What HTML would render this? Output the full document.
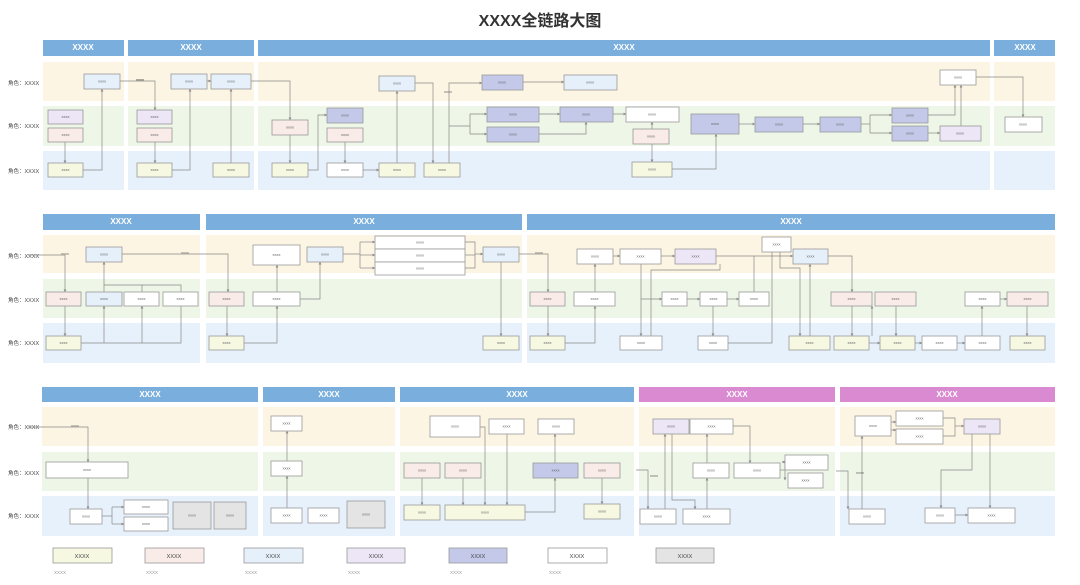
<!DOCTYPE html>
<html><head><meta charset="utf-8"><style>
body{margin:0;background:#fff;}
svg{display:block;font-family:"Liberation Sans","Noto Sans CJK SC",sans-serif;}
.h{fill:#7aaedc}.p{fill:#d98ad0}
.ly{fill:#fdf5e3}.lg{fill:#eef6e8}.lb{fill:#e7f1fb}
.b rect{stroke:#999;stroke-width:0.8}
.t{font-size:4px;fill:#666;text-anchor:middle;dominant-baseline:middle}
.ht{font-size:8px;fill:#fff;font-weight:bold;text-anchor:middle;dominant-baseline:middle}
.rl{font-size:5.5px;fill:#444}
path.c{fill:none;stroke:#888;stroke-width:0.7;marker-end:url(#a)}
path.n{fill:none;stroke:#888;stroke-width:0.7}
</style></head><body>
<svg width="1080" height="585" viewBox="0 0 1080 585" xmlns="http://www.w3.org/2000/svg">
<defs><marker id="a" markerWidth="4" markerHeight="4" refX="3.5" refY="2" orient="auto"><path d="M0,0 L4,2 L0,4z" fill="#888"/></marker></defs>
<text x="540" y="26" font-size="16" font-weight="bold" fill="#333" text-anchor="middle">XXXX全链路大图</text>

<!-- section 1 -->
<g>
<rect class="h" x="43" y="40" width="81" height="16"/><text class="ht" x="83" y="48">XXXX</text>
<rect class="h" x="128" y="40" width="126" height="16"/><text class="ht" x="191" y="48">XXXX</text>
<rect class="h" x="258" y="40" width="732" height="16"/><text class="ht" x="624" y="48">XXXX</text>
<rect class="h" x="994" y="40" width="61" height="16"/><text class="ht" x="1025" y="48">XXXX</text>
<rect class="ly" x="43" y="62" width="81" height="39"/><rect class="ly" x="128" y="62" width="126" height="39"/><rect class="ly" x="258" y="62" width="732" height="39"/><rect class="ly" x="994" y="62" width="61" height="39"/>
<rect class="lg" x="43" y="106" width="81" height="40"/><rect class="lg" x="128" y="106" width="126" height="40"/><rect class="lg" x="258" y="106" width="732" height="40"/><rect class="lg" x="994" y="106" width="61" height="40"/>
<rect class="lb" x="43" y="151" width="81" height="39"/><rect class="lb" x="128" y="151" width="126" height="39"/><rect class="lb" x="258" y="151" width="732" height="39"/><rect class="lb" x="994" y="151" width="61" height="39"/>
<text class="rl" x="8" y="85">角色：XXXX</text><text class="rl" x="8" y="128">角色：XXXX</text><text class="rl" x="8" y="173">角色：XXXX</text>
</g>
<!-- section 2 -->
<g>
<rect class="h" x="43" y="214" width="157" height="16"/><text class="ht" x="121" y="222">XXXX</text>
<rect class="h" x="206" y="214" width="316" height="16"/><text class="ht" x="364" y="222">XXXX</text>
<rect class="h" x="527" y="214" width="528" height="16"/><text class="ht" x="791" y="222">XXXX</text>
<rect class="ly" x="43" y="235" width="157" height="38"/><rect class="ly" x="206" y="235" width="316" height="38"/><rect class="ly" x="527" y="235" width="528" height="38"/>
<rect class="lg" x="43" y="279" width="157" height="39"/><rect class="lg" x="206" y="279" width="316" height="39"/><rect class="lg" x="527" y="279" width="528" height="39"/>
<rect class="lb" x="43" y="323" width="157" height="40"/><rect class="lb" x="206" y="323" width="316" height="40"/><rect class="lb" x="527" y="323" width="528" height="40"/>
<text class="rl" x="8" y="258">角色：XXXX</text><text class="rl" x="8" y="302">角色：XXXX</text><text class="rl" x="8" y="345">角色：XXXX</text>
</g>
<!-- section 3 -->
<g>
<rect class="h" x="42" y="387" width="216" height="15"/><text class="ht" x="150" y="395">XXXX</text>
<rect class="h" x="263" y="387" width="132" height="15"/><text class="ht" x="329" y="395">XXXX</text>
<rect class="h" x="400" y="387" width="234" height="15"/><text class="ht" x="517" y="395">XXXX</text>
<rect class="p" x="639" y="387" width="196" height="15"/><text class="ht" x="737" y="395">XXXX</text>
<rect class="p" x="840" y="387" width="215" height="15"/><text class="ht" x="947" y="395">XXXX</text>
<rect class="ly" x="42" y="407" width="216" height="39"/><rect class="ly" x="263" y="407" width="132" height="39"/><rect class="ly" x="400" y="407" width="234" height="39"/><rect class="ly" x="639" y="407" width="196" height="39"/><rect class="ly" x="840" y="407" width="215" height="39"/>
<rect class="lg" x="42" y="452" width="216" height="39"/><rect class="lg" x="263" y="452" width="132" height="39"/><rect class="lg" x="400" y="452" width="234" height="39"/><rect class="lg" x="639" y="452" width="196" height="39"/><rect class="lg" x="840" y="452" width="215" height="39"/>
<rect class="lb" x="42" y="496" width="216" height="40"/><rect class="lb" x="263" y="496" width="132" height="40"/><rect class="lb" x="400" y="496" width="234" height="40"/><rect class="lb" x="639" y="496" width="196" height="40"/><rect class="lb" x="840" y="496" width="215" height="40"/>
<text class="rl" x="8" y="429">角色：XXXX</text><text class="rl" x="8" y="475">角色：XXXX</text><text class="rl" x="8" y="518">角色：XXXX</text>
</g>

<!-- connectors -->
<g>
<path class="c" d="M65,142V163"/><path class="c" d="M83,170H102V89"/><path class="c" d="M120,81H155V110"/>
<path class="c" d="M155,142V163"/><path class="c" d="M172,170H190V89"/><path class="c" d="M207,81H211"/><path class="c" d="M231,163V89"/>
<path class="c" d="M251,81H290V120"/><path class="c" d="M290,135V163"/><path class="c" d="M308,170H318V115H327"/><path class="c" d="M345,142V163"/>
<path class="c" d="M363,170H379"/><path class="c" d="M397,163V91"/><path class="c" d="M415,83H433V163"/><path class="c" d="M449,163V83H482"/>
<path class="n" d="M449,126H470"/><path class="c" d="M470,114H487"/><path class="c" d="M470,134H487"/><path class="n" d="M470,114V134"/>
<path class="c" d="M523,82H564"/><path class="c" d="M539,114H560"/><path class="c" d="M539,134H586V122"/><path class="c" d="M613,114H626"/>
<path class="c" d="M652,129V122"/><path class="c" d="M652,144V162"/><path class="c" d="M672,169H716V134"/><path class="c" d="M739,124H755"/><path class="c" d="M803,124H820"/>
<path class="n" d="M861,124H870"/><path class="c" d="M870,115H892"/><path class="c" d="M870,133H892"/><path class="n" d="M870,115V133"/>
<path class="c" d="M928,115H955V85"/><path class="c" d="M928,133H940"/><path class="c" d="M961,126V85"/><path class="c" d="M976,77H1023V117"/>

<path class="c" d="M28,255H65V292"/><path class="c" d="M65,306V336"/><path class="n" d="M81,343H181V306"/><path class="c" d="M104,343V306"/><path class="c" d="M142,343V306"/>
<path class="n" d="M104,285H181V292"/><path class="n" d="M142,285V292"/><path class="c" d="M104,292V262"/><path class="c" d="M122,254H228V292"/>
<path class="c" d="M227,306V336"/><path class="c" d="M244,343H277V306"/><path class="c" d="M277,292V265"/><path class="c" d="M300,299H320V262"/>
<path class="n" d="M343,254H360"/><path class="n" d="M360,242V268"/><path class="c" d="M360,242H375"/><path class="c" d="M360,255H375"/><path class="c" d="M360,268H375"/>
<path class="n" d="M465,242H475V268H465"/><path class="n" d="M465,255H475"/><path class="c" d="M475,254H483"/><path class="c" d="M501,262V336"/><path class="c" d="M519,254H548V292"/>
<path class="c" d="M548,306V336"/><path class="c" d="M565,343H595V306"/><path class="c" d="M595,292V264"/><path class="c" d="M613,256H620"/><path class="c" d="M661,256H675"/>
<path class="c" d="M641,264V336"/><path class="c" d="M641,299H662"/><path class="n" d="M651,336V270H720V264"/><path class="c" d="M687,299H700"/><path class="c" d="M727,299H739"/>
<path class="c" d="M713,306V336"/><path class="n" d="M728,343H772V252"/><path class="n" d="M754,292V256"/><path class="c" d="M716,256H793"/><path class="c" d="M780,252V268H800V336"/>
<path class="c" d="M810,336V264"/><path class="c" d="M828,256H852V292"/><path class="c" d="M852,306V336"/><path class="c" d="M869,343H880"/><path class="c" d="M872,336V306"/>
<path class="c" d="M896,306V336"/><path class="c" d="M915,343H922"/><path class="c" d="M957,343H965"/><path class="c" d="M982,336V306"/><path class="c" d="M1000,299H1007"/><path class="c" d="M1027,306V336"/>

<path class="c" d="M28,427H88V462"/><path class="c" d="M88,478V509"/><path class="n" d="M102,516H112"/><path class="n" d="M112,507V524"/><path class="c" d="M112,507H124"/><path class="c" d="M112,524H124"/>
<path class="c" d="M287,508V476"/><path class="c" d="M287,461V431"/>
<path class="c" d="M480,427H485V505"/><path class="c" d="M507,434V505"/><path class="c" d="M422,478V505"/><path class="c" d="M463,478V505"/><path class="c" d="M525,512H555V478"/><path class="c" d="M555,463V434"/><path class="c" d="M602,478V504"/>
<path class="c" d="M636,470H648V509"/><path class="c" d="M665,509V434"/><path class="c" d="M672,434V500H695V509"/><path class="c" d="M707,509V478"/><path class="c" d="M707,463V434"/>
<path class="c" d="M733,426H750V463"/><path class="n" d="M780,470H785"/><path class="c" d="M785,470V462H782"/><path class="c" d="M785,470V480"/>
<path class="c" d="M836,471H848V509"/><path class="c" d="M862,509V436"/><path class="c" d="M891,422H896"/><path class="c" d="M891,430H896"/>
<path class="n" d="M943,418H955V436H943"/><path class="c" d="M955,426H964"/><path class="c" d="M972,434V470H941V508"/><path class="c" d="M990,434V508"/><path class="c" d="M955,515H968"/>
</g>

<!-- boxes -->
<g class="b" id="boxes">
<!-- s1 -->
<rect x="84" y="74" width="36" height="15" fill="#e6f0fa"/><rect x="48" y="110" width="35" height="14" fill="#ece6f6"/><rect x="48" y="128" width="35" height="14" fill="#f8ebe8"/><rect x="48" y="163" width="35" height="14" fill="#f6f8e2"/>
<rect x="137" y="110" width="35" height="14" fill="#ece6f6"/><rect x="137" y="128" width="35" height="14" fill="#f8ebe8"/><rect x="137" y="163" width="35" height="14" fill="#f6f8e2"/><rect x="171" y="74" width="36" height="15" fill="#e6f0fa"/><rect x="211" y="74" width="40" height="15" fill="#e6f0fa"/><rect x="213" y="163" width="36" height="14" fill="#f6f8e2"/>
<rect x="272" y="120" width="36" height="15" fill="#f8ebe8"/><rect x="272" y="163" width="36" height="14" fill="#f6f8e2"/><rect x="327" y="108" width="36" height="15" fill="#c4c9ea"/><rect x="327" y="128" width="36" height="14" fill="#f8ebe8"/><rect x="327" y="163" width="36" height="14" fill="#fff"/><rect x="379" y="163" width="36" height="14" fill="#f6f8e2"/><rect x="379" y="76" width="36" height="15" fill="#e6f0fa"/><rect x="424" y="163" width="36" height="14" fill="#f6f8e2"/>
<rect x="482" y="75" width="41" height="15" fill="#c4c9ea"/><rect x="487" y="107" width="52" height="15" fill="#c4c9ea"/><rect x="487" y="127" width="52" height="15" fill="#c4c9ea"/><rect x="564" y="75" width="53" height="15" fill="#e6f0fa"/><rect x="560" y="107" width="53" height="15" fill="#c4c9ea"/><rect x="626" y="107" width="53" height="15" fill="#fff"/><rect x="633" y="129" width="36" height="15" fill="#f8ebe8"/><rect x="632" y="162" width="40" height="15" fill="#f6f8e2"/>
<rect x="691" y="114" width="48" height="20" fill="#c4c9ea"/><rect x="755" y="117" width="48" height="15" fill="#c4c9ea"/><rect x="820" y="117" width="41" height="15" fill="#c4c9ea"/><rect x="892" y="108" width="36" height="15" fill="#c4c9ea"/><rect x="892" y="126" width="36" height="15" fill="#c4c9ea"/><rect x="940" y="70" width="36" height="15" fill="#fff"/><rect x="940" y="126" width="41" height="15" fill="#ece6f6"/><rect x="1005" y="117" width="37" height="15" fill="#fff"/>
<!-- s2 -->
<rect x="86" y="247" width="36" height="15" fill="#e6f0fa"/><rect x="46" y="292" width="35" height="14" fill="#f8ebe8"/><rect x="86" y="292" width="36" height="14" fill="#e6f0fa"/><rect x="124" y="292" width="35" height="14" fill="#fff"/><rect x="163" y="292" width="35" height="14" fill="#fff"/><rect x="46" y="336" width="35" height="14" fill="#f6f8e2"/>
<rect x="209" y="292" width="35" height="14" fill="#f8ebe8"/><rect x="209" y="336" width="35" height="14" fill="#f6f8e2"/><rect x="253" y="245" width="47" height="20" fill="#fff"/><rect x="253" y="292" width="47" height="14" fill="#fff"/><rect x="307" y="247" width="36" height="15" fill="#e6f0fa"/>
<rect x="375" y="236" width="90" height="13" fill="#fff"/><rect x="375" y="249" width="90" height="13" fill="#fff"/><rect x="375" y="262" width="90" height="13" fill="#fff"/><rect x="483" y="247" width="36" height="15" fill="#e6f0fa"/><rect x="483" y="336" width="36" height="14" fill="#f6f8e2"/>
<rect x="530" y="292" width="35" height="14" fill="#f8ebe8"/><rect x="530" y="336" width="35" height="14" fill="#f6f8e2"/><rect x="577" y="249" width="36" height="15" fill="#fff"/><rect x="574" y="292" width="41" height="14" fill="#fff"/><rect x="620" y="249" width="41" height="15" fill="#fff"/><rect x="675" y="249" width="41" height="15" fill="#ece6f6"/><rect x="620" y="336" width="42" height="14" fill="#fff"/>
<rect x="662" y="292" width="25" height="14" fill="#fff"/><rect x="700" y="292" width="27" height="14" fill="#fff"/><rect x="739" y="292" width="30" height="14" fill="#fff"/><rect x="698" y="336" width="30" height="14" fill="#fff"/><rect x="762" y="237" width="29" height="15" fill="#fff"/><rect x="793" y="249" width="35" height="15" fill="#e6f0fa"/><rect x="789" y="336" width="41" height="14" fill="#f6f8e2"/>
<rect x="831" y="292" width="41" height="14" fill="#f8ebe8"/><rect x="875" y="292" width="41" height="14" fill="#f8ebe8"/><rect x="834" y="336" width="35" height="14" fill="#f6f8e2"/><rect x="880" y="336" width="35" height="14" fill="#f6f8e2"/><rect x="922" y="336" width="35" height="14" fill="#fff"/><rect x="965" y="292" width="35" height="14" fill="#fff"/><rect x="1007" y="292" width="41" height="14" fill="#f8ebe8"/><rect x="965" y="336" width="35" height="14" fill="#fff"/><rect x="1010" y="336" width="35" height="14" fill="#f6f8e2"/>
<!-- s3 -->
<rect x="46" y="462" width="82" height="16" fill="#fff"/><rect x="70" y="509" width="32" height="15" fill="#fff"/><rect x="124" y="500" width="44" height="14" fill="#fff"/><rect x="124" y="517" width="44" height="14" fill="#fff"/><rect x="173" y="502" width="38" height="27" fill="#e4e4e4"/><rect x="214" y="502" width="32" height="27" fill="#e4e4e4"/>
<rect x="271" y="416" width="31" height="15" fill="#fff"/><rect x="271" y="461" width="31" height="15" fill="#fff"/><rect x="271" y="508" width="31" height="15" fill="#fff"/><rect x="308" y="508" width="31" height="15" fill="#fff"/><rect x="347" y="501" width="38" height="27" fill="#e4e4e4"/>
<rect x="430" y="416" width="50" height="21" fill="#fff"/><rect x="489" y="419" width="35" height="15" fill="#fff"/><rect x="538" y="419" width="36" height="15" fill="#fff"/><rect x="404" y="463" width="36" height="15" fill="#f8ebe8"/><rect x="445" y="463" width="36" height="15" fill="#f8ebe8"/><rect x="533" y="463" width="45" height="15" fill="#c4c9ea"/><rect x="584" y="463" width="36" height="15" fill="#f8ebe8"/><rect x="404" y="505" width="36" height="15" fill="#f6f8e2"/><rect x="445" y="505" width="80" height="15" fill="#f6f8e2"/><rect x="584" y="504" width="36" height="15" fill="#f6f8e2"/>
<rect x="653" y="419" width="36" height="15" fill="#ece6f6"/><rect x="690" y="419" width="43" height="15" fill="#fff"/><rect x="640" y="509" width="36" height="15" fill="#fff"/><rect x="683" y="509" width="47" height="15" fill="#fff"/><rect x="693" y="463" width="36" height="15" fill="#fff"/><rect x="734" y="463" width="46" height="15" fill="#fff"/><rect x="785" y="455" width="43" height="15" fill="#fff"/><rect x="788" y="473" width="35" height="15" fill="#fff"/>
<rect x="855" y="416" width="36" height="20" fill="#fff"/><rect x="896" y="411" width="47" height="15" fill="#fff"/><rect x="896" y="429" width="47" height="15" fill="#fff"/><rect x="964" y="419" width="36" height="15" fill="#ece6f6"/><rect x="849" y="509" width="36" height="15" fill="#fff"/><rect x="925" y="508" width="30" height="15" fill="#fff"/><rect x="968" y="508" width="47" height="15" fill="#fff"/>
<!-- legend -->
<rect x="53" y="548" width="59" height="15" fill="#f6f8e2"/><rect x="145" y="548" width="59" height="15" fill="#f8ebe8"/><rect x="244" y="548" width="59" height="15" fill="#e6f0fa"/><rect x="347" y="548" width="58" height="15" fill="#ece6f6"/><rect x="449" y="548" width="58" height="15" fill="#c4c9ea"/><rect x="548" y="548" width="59" height="15" fill="#fff"/><rect x="656" y="548" width="58" height="15" fill="#e4e4e4" stroke="#e4e4e4"/>
</g>
<g font-size="5.5" fill="#444" text-anchor="middle">
<text x="82" y="558">XXXX</text><text x="174" y="558">XXXX</text><text x="273" y="558">XXXX</text><text x="376" y="558">XXXX</text><text x="478" y="558">XXXX</text><text x="577" y="558">XXXX</text><text x="685" y="558">XXXX</text>
</g>
<g font-size="4.5" fill="#999">
<text x="54" y="574">XXXX</text><text x="146" y="574">XXXX</text><text x="245" y="574">XXXX</text><text x="348" y="574">XXXX</text><text x="450" y="574">XXXX</text><text x="549" y="574">XXXX</text>
</g>
<g class="t">
<text class="t" x="102" y="81.5">xxxx</text><text class="t" x="65.5" y="117">xxxx</text><text class="t" x="65.5" y="135">xxxx</text><text class="t" x="65.5" y="170">xxxx</text>
<text class="t" x="154.5" y="117">xxxx</text><text class="t" x="154.5" y="135">xxxx</text><text class="t" x="154.5" y="170">xxxx</text><text class="t" x="189" y="81.5">xxxx</text><text class="t" x="231" y="81.5">xxxx</text><text class="t" x="231" y="170">xxxx</text>
<text class="t" x="290" y="127.5">xxxx</text><text class="t" x="290" y="170">xxxx</text><text class="t" x="345" y="115.5">xxxx</text><text class="t" x="345" y="135">xxxx</text><text class="t" x="345" y="170">xxxx</text><text class="t" x="397" y="170">xxxx</text><text class="t" x="397" y="83.5">xxxx</text><text class="t" x="442" y="170">xxxx</text>
<text class="t" x="502" y="82.5">xxxx</text><text class="t" x="513" y="114.5">xxxx</text><text class="t" x="513" y="134.5">xxxx</text><text class="t" x="590" y="82.5">xxxx</text><text class="t" x="586" y="114.5">xxxx</text><text class="t" x="652" y="114.5">xxxx</text><text class="t" x="651" y="136.5">xxxx</text><text class="t" x="652" y="169.5">xxxx</text>
<text class="t" x="715" y="124">xxxx</text><text class="t" x="779" y="124.5">xxxx</text><text class="t" x="840" y="124.5">xxxx</text><text class="t" x="910" y="115.5">xxxx</text><text class="t" x="910" y="133.5">xxxx</text><text class="t" x="958" y="77.5">xxxx</text><text class="t" x="960" y="133.5">xxxx</text><text class="t" x="1023" y="124.5">xxxx</text>
<text class="t" x="104" y="254.5">xxxx</text><text class="t" x="63.5" y="299">xxxx</text><text class="t" x="104" y="299">xxxx</text><text class="t" x="141.5" y="299">xxxx</text><text class="t" x="180.5" y="299">xxxx</text><text class="t" x="63.5" y="343">xxxx</text>
<text class="t" x="226.5" y="299">xxxx</text><text class="t" x="226.5" y="343">xxxx</text><text class="t" x="276.5" y="255">xxxx</text><text class="t" x="276.5" y="299">xxxx</text><text class="t" x="325" y="254.5">xxxx</text><text class="t" x="420" y="242.5">xxxx</text><text class="t" x="420" y="255.5">xxxx</text><text class="t" x="420" y="268.5">xxxx</text><text class="t" x="501" y="254.5">xxxx</text><text class="t" x="501" y="343">xxxx</text>
<text class="t" x="547.5" y="299">xxxx</text><text class="t" x="547.5" y="343">xxxx</text><text class="t" x="595" y="256.5">xxxx</text><text class="t" x="594.5" y="299">xxxx</text><text class="t" x="640.5" y="256.5">xxxx</text><text class="t" x="695.5" y="256.5">xxxx</text><text class="t" x="641" y="343">xxxx</text>
<text class="t" x="674.5" y="299">xxxx</text><text class="t" x="713.5" y="299">xxxx</text><text class="t" x="754" y="299">xxxx</text><text class="t" x="713" y="343">xxxx</text><text class="t" x="776.5" y="244.5">xxxx</text><text class="t" x="810.5" y="256.5">xxxx</text><text class="t" x="809.5" y="343">xxxx</text>
<text class="t" x="851.5" y="299">xxxx</text><text class="t" x="895.5" y="299">xxxx</text><text class="t" x="851.5" y="343">xxxx</text><text class="t" x="897.5" y="343">xxxx</text><text class="t" x="939.5" y="343">xxxx</text><text class="t" x="982.5" y="299">xxxx</text><text class="t" x="1027.5" y="299">xxxx</text><text class="t" x="982.5" y="343">xxxx</text><text class="t" x="1027.5" y="343">xxxx</text>
<text class="t" x="87" y="470">xxxx</text><text class="t" x="86" y="516.5">xxxx</text><text class="t" x="146" y="507">xxxx</text><text class="t" x="146" y="524">xxxx</text><text class="t" x="192" y="515.5">xxxx</text><text class="t" x="230" y="515.5">xxxx</text>
<text class="t" x="286.5" y="423.5">xxxx</text><text class="t" x="286.5" y="468.5">xxxx</text><text class="t" x="286.5" y="515.5">xxxx</text><text class="t" x="323.5" y="515.5">xxxx</text><text class="t" x="366" y="514.5">xxxx</text>
<text class="t" x="455" y="426.5">xxxx</text><text class="t" x="506.5" y="426.5">xxxx</text><text class="t" x="556" y="426.5">xxxx</text><text class="t" x="422" y="470.5">xxxx</text><text class="t" x="463" y="470.5">xxxx</text><text class="t" x="555.5" y="470.5">xxxx</text><text class="t" x="602" y="470.5">xxxx</text><text class="t" x="422" y="512.5">xxxx</text><text class="t" x="485" y="512.5">xxxx</text><text class="t" x="602" y="511.5">xxxx</text>
<text class="t" x="671" y="426.5">xxxx</text><text class="t" x="711.5" y="426.5">xxxx</text><text class="t" x="658" y="516.5">xxxx</text><text class="t" x="706.5" y="516.5">xxxx</text><text class="t" x="711" y="470.5">xxxx</text><text class="t" x="757" y="470.5">xxxx</text><text class="t" x="806.5" y="462.5">xxxx</text><text class="t" x="805.5" y="480.5">xxxx</text>
<text class="t" x="873" y="426">xxxx</text><text class="t" x="919.5" y="418.5">xxxx</text><text class="t" x="919.5" y="436.5">xxxx</text><text class="t" x="982" y="426.5">xxxx</text><text class="t" x="867" y="516.5">xxxx</text><text class="t" x="940" y="515.5">xxxx</text><text class="t" x="991.5" y="515.5">xxxx</text>
<text class="t" x="140" y="80">xxxx</text><text class="t" x="140" y="80">xxxx</text><text class="t" x="448" y="92">xxxx</text><text class="t" x="65" y="254">xxxx</text><text class="t" x="185" y="253">xxxx</text><text class="t" x="539" y="253">xxxx</text><text class="t" x="75" y="426">xxxx</text><text class="t" x="654" y="476">xxxx</text><text class="t" x="860" y="473">xxxx</text>
</g>
</svg>
</body></html>
